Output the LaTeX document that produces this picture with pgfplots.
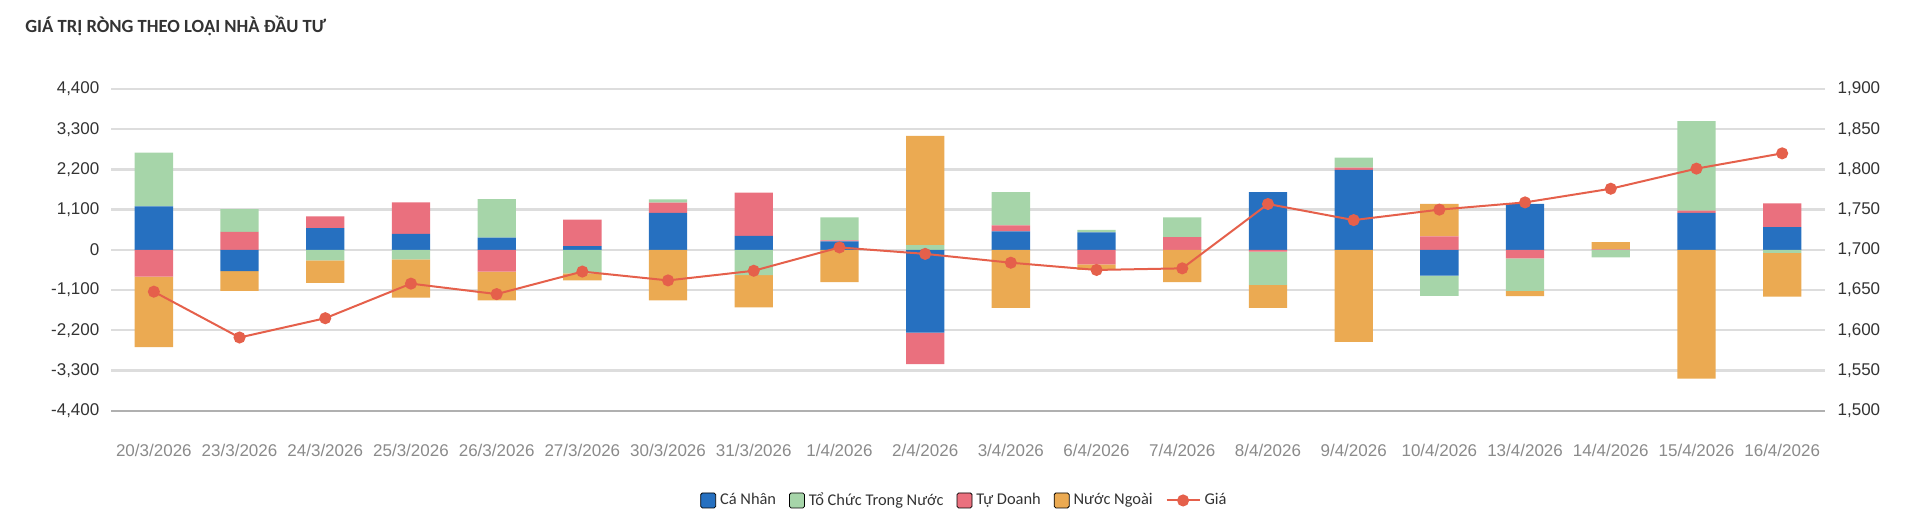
\documentclass[border=0pt]{standalone}
\usepackage{pgfplots}
\pgfplotsset{compat=1.18}
\usepackage{pgfplotstable}
\usepackage{fontspec}
\setmainfont{Liberation Sans}
\newfontfamily\legendfont{Carlito}

\definecolor{caNhan}{HTML}{2670C0}
\definecolor{toChuc}{HTML}{A6D5A9}
\definecolor{tuDoanh}{HTML}{EA707E}
\definecolor{nuocNgoai}{HTML}{EBAA52}
\definecolor{gia}{HTML}{E5604B}
\definecolor{gridgray}{HTML}{DDDDDD}
\definecolor{basegray}{HTML}{B0B0B0}
\definecolor{ticktext}{HTML}{333333}
\definecolor{datetext}{HTML}{8A8A8A}

% Net value by investor type (billion VND) and closing price
\pgfplotstableread{
idx canhan tudoanh tochuc nuocngoai gia
0   1190  -735   1470  -1925  1648
1   -580   495    620   -545  1591
2    595   320   -285   -620  1615
3    435   865   -260  -1050  1658
4    335  -595   1050   -785  1645
5    105   720   -645   -190  1673
6   1015   275     90  -1380  1662
7    380  1185   -690   -885  1674
8    235    25    630   -880  1703
9  -2265  -860    130   2985  1695
10   505   165    910  -1590  1684
11   480  -395     65   -155  1675
12     0   350    540   -880  1677
13  1580   -50   -910   -630  1757
14  2185    65    275  -2515  1737
15  -705   370   -555    885  1750
16  1255  -235   -890   -140  1759
17     0    15   -205    200  1776
18  1015    55   2455  -3525  1801
19   625   645    -80  -1200  1820
}\netflow

\pgfplotsset{
  panel/.style={
    scale only axis, width=857bp, height=160.85bp,
    at={(55.5bp,58.65bp)}, anchor=south west,
    xmin=-0.5, xmax=19.5,
  },
  netbars/.style={
    panel, ybar stacked, bar width=0.447,
    ymin=-4400, ymax=4400,
  },
  sq legend/.style={
    legend image code/.code={\fill[##1, rounded corners=0.8bp] (0bp,-3.75bp) rectangle (7.5bp,3.75bp);}
  },
  ln legend/.style={
    legend image code/.code={\draw[##1] (0bp,0bp) -- (16.5bp,0bp);
      \fill[gia] (8.25bp,0bp) circle (2.5bp);}
  },
}

\begin{document}
\begin{tikzpicture}
\useasboundingbox (0,0) rectangle (960bp,264bp);

\node[anchor=base west, inner sep=0pt, font=\legendfont\bfseries\fontsize{9.3bp}{11bp}\selectfont, text=ticktext]
  at (12.5bp,247.85bp) {GIÁ TRỊ RÒNG THEO LOẠI NHÀ ĐẦU TƯ};

% positive parts, stacked upward from zero
\begin{axis}[
  netbars,
  ytick={-4400,-3300,...,4400},
  yticklabels={{-4,400},{-3,300},{-2,200},{-1,100},0,{1,100},{2,200},{3,300},{4,400}},
  ymajorgrids,
  major grid style={draw=gridgray, line width=1.2bp},
  xtick={0,...,19},
  xticklabels={20/3/2026,23/3/2026,24/3/2026,25/3/2026,26/3/2026,27/3/2026,30/3/2026,31/3/2026,1/4/2026,2/4/2026,3/4/2026,6/4/2026,7/4/2026,8/4/2026,9/4/2026,10/4/2026,13/4/2026,14/4/2026,15/4/2026,16/4/2026},
  axis x line*=bottom, axis y line*=left,
  y axis line style={draw=none},
  x axis line style={draw=basegray, line width=1.2bp},
  major tick length=0pt, tick style={draw=none},
  yticklabel style={font=\fontsize{8.5bp}{10bp}\selectfont, text=ticktext, anchor=east, xshift=-2.3bp},
  xticklabel style={font=\fontsize{8.5bp}{10bp}\selectfont, text=datetext, anchor=north, yshift=-13bp},
]
\addplot[fill=caNhan, draw=none] table[x=idx, y expr={max(\thisrow{canhan},0)}] {\netflow};
\addplot[fill=tuDoanh, draw=none] table[x=idx, y expr={max(\thisrow{tudoanh},0)}] {\netflow};
\addplot[fill=toChuc, draw=none] table[x=idx, y expr={max(\thisrow{tochuc},0)}] {\netflow};
\addplot[fill=nuocNgoai, draw=none] table[x=idx, y expr={max(\thisrow{nuocngoai},0)}] {\netflow};
\end{axis}

% negative parts, stacked downward from zero
\begin{axis}[netbars, hide axis]
\addplot[fill=caNhan, draw=none] table[x=idx, y expr={min(\thisrow{canhan},0)}] {\netflow};
\addplot[fill=tuDoanh, draw=none] table[x=idx, y expr={min(\thisrow{tudoanh},0)}] {\netflow};
\addplot[fill=toChuc, draw=none] table[x=idx, y expr={min(\thisrow{tochuc},0)}] {\netflow};
\addplot[fill=nuocNgoai, draw=none] table[x=idx, y expr={min(\thisrow{nuocngoai},0)}] {\netflow};
\end{axis}

% price on the right axis, and the legend
\begin{axis}[
  panel,
  ymin=1500, ymax=1900,
  ytick={1500,1550,...,1900},
  yticklabels={{1,500},{1,550},{1,600},{1,650},{1,700},{1,750},{1,800},{1,850},{1,900}},
  axis y line*=right, axis x line=none,
  y axis line style={draw=none},
  major tick length=0pt, tick style={draw=none},
  yticklabel style={font=\fontsize{8.5bp}{10bp}\selectfont, text=ticktext, anchor=west, xshift=2.8bp},
  legend style={
    at={(0.4985,-0.279)}, anchor=center, draw=none, fill=none,
    legend columns=-1,
    font=\legendfont\fontsize{8.2bp}{9.8bp}\selectfont, text=ticktext,
    /tikz/every even column/.append style={column sep=4.5bp},
  },
]
\addlegendimage{sq legend, fill=caNhan}
\addlegendentry{Cá Nhân}
\addlegendimage{sq legend, fill=toChuc}
\addlegendentry{Tổ Chức Trong Nước}
\addlegendimage{sq legend, fill=tuDoanh}
\addlegendentry{Tự Doanh}
\addlegendimage{sq legend, fill=nuocNgoai}
\addlegendentry{Nước Ngoài}
\addlegendimage{ln legend, draw=gia, line width=1bp}
\addlegendentry{Giá}
\addplot[gia, line width=1bp, mark=*, mark size=2.5bp, mark options={fill=gia, draw=gia}, forget plot]
  table[x=idx, y=gia] {\netflow};
\end{axis}
\end{tikzpicture}
\end{document}
